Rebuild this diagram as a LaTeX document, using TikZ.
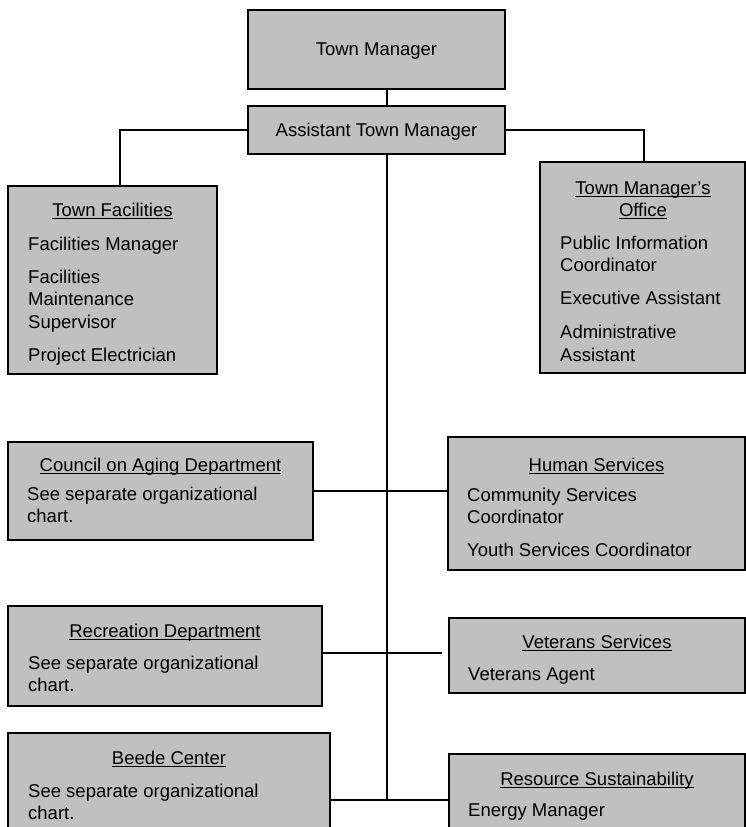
\documentclass[tikz,border=0pt]{standalone}
\usepackage{fontspec}
\setmainfont{Liberation Sans}
\usepackage{xcolor}
\usepackage{tikz}
\usetikzlibrary{positioning}

\definecolor{boxgray}{RGB}{192,192,192}
\newsavebox{\ulnamebox}
\newcommand{\ulname}[1]{\sbox{\ulnamebox}{#1}\rlap{\rule[-2.5pt]{\wd\ulnamebox}{1pt}}\usebox{\ulnamebox}}

\tikzset{
  orgbox/.style = {draw, fill=boxgray, rectangle, line width=1.6pt, inner sep=0pt, text depth=0pt},
  unithead/.style = {anchor=north, inner sep=0pt, align=center},
  jobline/.style = {anchor=north west, inner sep=0pt, align=left},
  link/.style = {line width=1.6pt}
}

\begin{document}
\begin{tikzpicture}[x = 1pt, y = -1pt, font = \fontsize{18.5}{22.5}\selectfont]
  \useasboundingbox (0, 0) rectangle (746, 827);

  % top of the chart
  \node[orgbox, minimum width = 257, minimum height = 79] (tm) at (376.5, 49.5){
    Town Manager
  };

  \node[orgbox, minimum width = 257, minimum height = 48] (atm) at (376.5, 130){
    Assistant Town Manager
  };

  % boxes
  \node[orgbox, minimum width = 209, minimum height = 188] (fac) at (112.5, 280){};
  \node[orgbox, minimum width = 205, minimum height = 211] (tmo) at (642.5, 267.5){};
  \node[orgbox, minimum width = 305, minimum height = 98] (coa) at (160.5, 491){};
  \node[orgbox, minimum width = 297, minimum height = 133] (hs) at (596.5, 503.5){};
  \node[orgbox, minimum width = 314, minimum height = 100] (rec) at (165, 656){};
  \node[orgbox, minimum width = 296, minimum height = 75] (vet) at (597, 655.5){};
  \node[orgbox, minimum width = 322, minimum height = 127] (bee) at (169, 796.5){};
  \node[orgbox, minimum width = 296, minimum height = 106] (res) at (597, 807){};

  % texts
  \node[unithead] (facHead) at (112.5, 202.5){\ulname{Town Facilities}};
  \node[jobline] (facJob1) at (28, 236.5){Facilities Manager};
  \node[jobline] (facJob2) at (28, 269.5){Facilities\\Maintenance\\Supervisor};
  \node[jobline] (facJob3) at (28, 347.5){Project Electrician};

  \node[unithead] (tmoHead) at (643, 181.5){\ulname{Town Manager's}\\\ulname{Office}};
  \node[jobline] (tmoJob1) at (560, 235.5){Public Information\\Coordinator};
  \node[jobline] (tmoJob2) at (560, 290.5){Executive Assistant};
  \node[jobline] (tmoJob3) at (560, 325){Administrative\\Assistant};

  \node[unithead] (coaHead) at (160.5, 457.5){\ulname{Council on Aging Department}};
  \node[jobline] (coaJob1) at (27, 486.5){See separate organizational\\chart.};

  \node[unithead] (hsHead) at (596.5, 457.5){\ulname{Human Services}};
  \node[jobline] (hsJob1) at (467, 487.5){Community Services\\Coordinator};
  \node[jobline] (hsJob2) at (467, 542.5){Youth Services Coordinator};

  \node[unithead] (recHead) at (165, 623.5){\ulname{Recreation Department}};
  \node[jobline] (recJob1) at (28, 655.5){See separate organizational\\chart.};

  \node[unithead] (vetHead) at (597, 634.5){\ulname{Veterans Services}};
  \node[jobline] (vetJob1) at (468, 667.5){Veterans Agent};

  \node[unithead] (beeHead) at (169, 750.5){\ulname{Beede Center}};
  \node[jobline] (beeJob1) at (28, 783.5){See separate organizational\\chart.};

  \node[unithead] (resHead) at (597, 771.5){\ulname{Resource Sustainability}};
  \node[jobline] (resJob1) at (468, 803.5){Energy Manager};

  % lines
  \coordinate (spine) at (387, 800);
  \coordinate (j1) at (387, 491);
  \coordinate (j2) at (387, 653);

  \draw[link] (tm.south -| spine) -- (atm.north -| spine);
  \draw[link] (atm.west) -| ([xshift = 7.5]fac.north);
  \draw[link] (atm.east) -| ([xshift = 1.5]tmo.north);
  \draw[link] (atm.south -| spine) -- (spine);

  \draw[link] (coa.east |- j1) -- (hs.west |- j1);
  \draw[link, shorten > = 6] (rec.east |- j2) -- (vet.west |- j2);
  \draw[link] (bee.east |- spine) -- (res.west |- spine);
\end{tikzpicture}
\end{document}
